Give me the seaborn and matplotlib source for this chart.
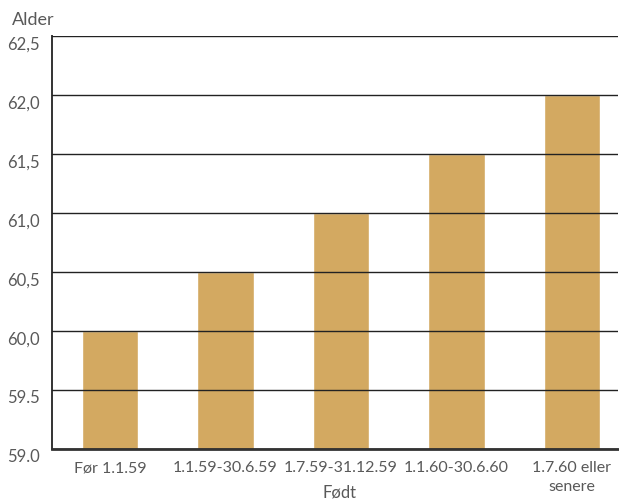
import matplotlib
matplotlib.use("Agg")
import matplotlib.pyplot as plt
import matplotlib.transforms as mtransforms
import seaborn as sns

# Data
categories = ["Før 1.1.59", "1.1.59-30.6.59", "1.7.59-31.12.59", "1.1.60-30.6.60", "1.7.60 eller\nsenere"]
ages = [60.0, 60.5, 61.0, 61.5, 62.0]
ytick_values = [59.0, 59.5, 60.0, 60.5, 61.0, 61.5, 62.0, 62.5]
ytick_labels = ["59.0", "59.5", "60,0", "60,5", "61,0", "61,5", "62,0", "62,5"]

sns.set_theme(style="white")
plt.rcParams['font.family'] = ['Lato', 'DejaVu Sans']
text_color = '#595959'

fig = plt.figure(figsize=(6.19, 5.02), dpi=100)
ax = fig.add_axes([52 / 619, 52 / 502, 566 / 619, 413 / 502])

sns.barplot(x=categories, y=ages, color='#D3A961', saturation=1, width=0.49, ax=ax)

ax.set_ylim(59.0, 62.5)
ax.set_xlim(-0.502, 4.40)
ax.set_yticks(ytick_values)
ax.set_yticklabels(ytick_labels)

ax.set_axisbelow(False)
ax.yaxis.grid(True, color='#222222', linewidth=1)
ax.xaxis.grid(False)

for side in ['top', 'right']:
    ax.spines[side].set_visible(False)
ax.spines['left'].set_color('#333333')
ax.spines['left'].set_linewidth(1.4)
ax.spines['bottom'].set_color('#333333')
ax.spines['bottom'].set_linewidth(2)

ax.tick_params(axis='y', length=0, pad=9, labelsize=12, labelcolor=text_color)
ax.tick_params(axis='x', length=0, pad=8, labelsize=11.5, labelcolor=text_color)

# tick labels in the reference sit a little below their lines
offset = mtransforms.ScaledTranslation(0, -6 / 100, fig.dpi_scale_trans)
for lbl in ax.get_yticklabels():
    lbl.set_transform(lbl.get_transform() + offset)
for lbl in ax.get_xticklabels():
    lbl.set_linespacing(1.45)

ax.set_xlabel('')
ax.set_ylabel('')
fig.text(340 / 619, 1 - 493 / 502, 'Født', fontsize=12, color=text_color,
         va='center', ha='center')
fig.text(12 / 619, 1 - 20 / 502, 'Alder', fontsize=13, color=text_color,
         va='center', ha='left')

fig.savefig('out.png', dpi=100)
